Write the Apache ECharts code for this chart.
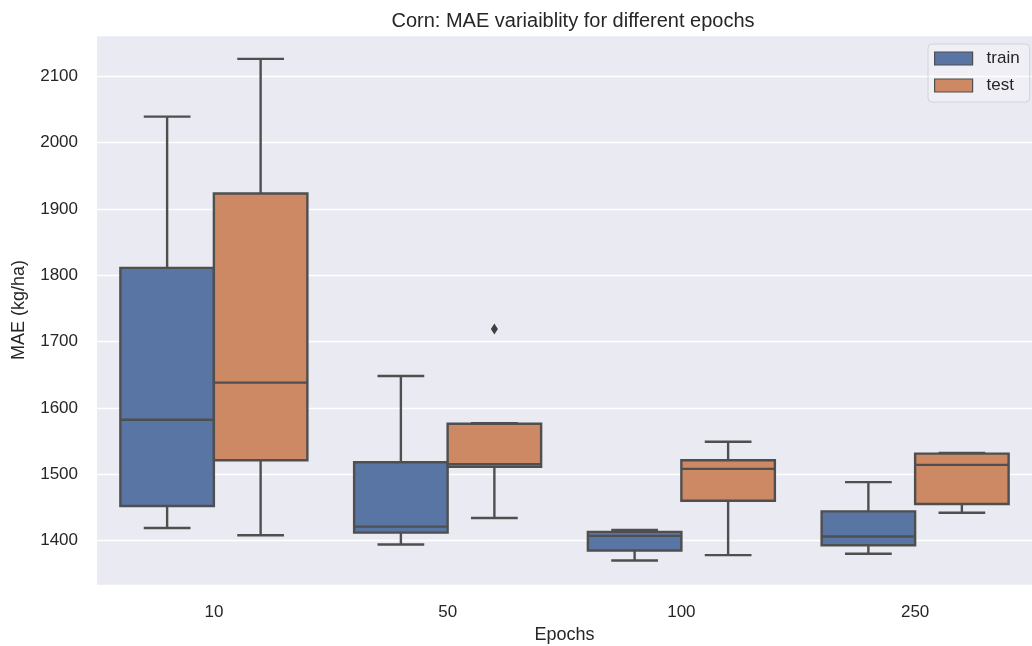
<!DOCTYPE html>
<html>
<head>
<meta charset="utf-8">
<script src="https://cdn.jsdelivr.net/npm/echarts@6/dist/echarts.min.js"></script>
<style>
  html, body { margin: 0; padding: 0; background: #ffffff; }
  #chart { width: 1032px; height: 646px; }
</style>
</head>
<body>
<div id="chart"></div>
<script>
// Epoch groups on the x axis
const categories = ['10', '50', '100', '250'];

// Box statistics per epoch: [lower whisker, Q1, median, Q3, upper whisker]
const trainStats = [
  [1419, 1452, 1582, 1811, 2039],
  [1394, 1412, 1421, 1518, 1648],
  [1370, 1385, 1407, 1413, 1416],
  [1380, 1393, 1406, 1444, 1488]
];
const testStats = [
  [1408, 1521, 1638, 1923, 2126],
  [1434, 1511, 1515, 1576, 1577],
  [1378, 1460, 1508, 1521, 1549],
  [1442, 1455, 1514, 1531, 1532]
];

// Points beyond the whiskers: [epoch index, value]
const testOutliers = [[1, 1719]];

// y axis tick values
const yTicks = [1400, 1500, 1600, 1700, 1800, 1900, 2000, 2100];

const TRAIN_COLOR = '#5875a4';
const TEST_COLOR = '#cd8963';
const EDGE = '#4f4f4f';
const LINE_W = 2.4;
const BOX_FRACTION = 0.4;
const FONT = '"Liberation Sans", Arial, Helvetica, sans-serif';
const TEXT = '#262626';

function toRows(stats) {
  return stats.map((s, i) => [i].concat(s));
}

// Draws one box with whiskers; side -1 puts it left of the category centre, +1 right
function boxRenderer(side, fill) {
  return function (params, api) {
    const i = api.value(0);
    const band = api.size([1, 0])[0];
    const w = band * BOX_FRACTION;
    const cx = api.coord([i, api.value(3)])[0];
    const left = side < 0 ? cx - w : cx;
    const mid = left + w / 2;
    const y = k => api.coord([i, api.value(k)])[1];
    const yLo = y(1), yQ1 = y(2), yMed = y(3), yQ3 = y(4), yHi = y(5);
    const cap = w / 4;
    const ls = { stroke: EDGE, lineWidth: LINE_W, fill: null };
    return {
      type: 'group',
      children: [
        { type: 'line', shape: { x1: mid, y1: yQ3, x2: mid, y2: yHi }, style: ls },
        { type: 'line', shape: { x1: mid, y1: yQ1, x2: mid, y2: yLo }, style: ls },
        { type: 'line', shape: { x1: mid - cap, y1: yHi, x2: mid + cap, y2: yHi }, style: ls },
        { type: 'line', shape: { x1: mid - cap, y1: yLo, x2: mid + cap, y2: yLo }, style: ls },
        { type: 'rect', shape: { x: left, y: yQ3, width: w, height: yQ1 - yQ3 },
          style: { fill: fill, stroke: EDGE, lineWidth: LINE_W } },
        { type: 'line', shape: { x1: left, y1: yMed, x2: left + w, y2: yMed }, style: ls }
      ]
    };
  };
}

// Diamond markers for outliers, placed at the centre of the matching box
function outlierRenderer(side) {
  return function (params, api) {
    const i = api.value(0);
    const band = api.size([1, 0])[0];
    const w = band * BOX_FRACTION;
    const p = api.coord([i, api.value(1)]);
    const mid = side < 0 ? p[0] - w / 2 : p[0] + w / 2;
    const yy = p[1];
    return {
      type: 'polygon',
      shape: { points: [[mid, yy - 5.5], [mid + 3.5, yy], [mid, yy + 5.5], [mid - 3.5, yy]] },
      style: { fill: '#3f3f3f', stroke: null }
    };
  };
}

const chart = echarts.init(document.getElementById('chart'), null, { renderer: 'canvas' });

chart.setOption({
  animation: false,
  backgroundColor: '#ffffff',
  title: {
    text: 'Corn: MAE variaiblity for different epochs',
    left: 568,
    top: 6,
    textAlign: 'center',
    textStyle: { fontFamily: FONT, fontSize: 20, fontWeight: 'normal', color: TEXT }
  },
  legend: {
    data: [
      { name: 'train', itemStyle: { color: TRAIN_COLOR, borderColor: EDGE, borderWidth: 1.2 } },
      { name: 'test', itemStyle: { color: TEST_COLOR, borderColor: EDGE, borderWidth: 1.2 } }
    ],
    orient: 'vertical',
    left: 928,
    top: 44,
    icon: 'rect',
    itemWidth: 38,
    itemHeight: 13,
    itemGap: 10,
    padding: [6, 10, 8, 6],
    backgroundColor: 'rgba(255,255,255,0.25)',
    borderColor: '#d2d2da',
    borderWidth: 1,
    borderRadius: 4,
    textStyle: { fontFamily: FONT, fontSize: 17, color: TEXT, padding: [0, 0, 0, 9] }
  },
  grid: {
    left: 97,
    right: 0,
    top: 35,
    bottom: 61,
    outerBoundsMode: 'none',
    containLabel: false,
    show: true,
    backgroundColor: '#eaeaf2',
    borderWidth: 0
  },
  xAxis: {
    type: 'category',
    data: categories,
    boundaryGap: true,
    name: 'Epochs',
    nameLocation: 'middle',
    nameGap: 41,
    nameTextStyle: { fontFamily: FONT, fontSize: 18, color: TEXT },
    axisLine: { show: false },
    axisTick: { show: false },
    splitLine: { show: false },
    axisLabel: { fontFamily: FONT, fontSize: 17, color: TEXT, margin: 19 }
  },
  yAxis: {
    type: 'value',
    min: 1333,
    max: 2162,
    splitNumber: 8,
    minInterval: 100,
    maxInterval: 100,
    name: 'MAE (kg/ha)',
    nameLocation: 'middle',
    nameGap: 69,
    nameTextStyle: { fontFamily: FONT, fontSize: 18, color: TEXT },
    axisLine: { show: false },
    axisTick: { show: false },
    splitLine: { show: true, lineStyle: { color: '#ffffff', width: 1.3 } },
    axisLabel: {
      fontFamily: FONT, fontSize: 17, color: TEXT, margin: 19,
      showMinLabel: false, showMaxLabel: false,
      formatter: v => (yTicks.indexOf(Math.round(v)) >= 0 && Math.abs(v - Math.round(v)) < 1e-6) ? String(Math.round(v)) : ''
    }
  },
  series: [
    {
      name: 'train',
      type: 'custom',
      itemStyle: { color: TRAIN_COLOR },
      renderItem: boxRenderer(-1, TRAIN_COLOR),
      encode: { x: 0, y: [1, 2, 3, 4, 5] },
      data: toRows(trainStats),
      z: 3
    },
    {
      name: 'test',
      type: 'custom',
      itemStyle: { color: TEST_COLOR },
      renderItem: boxRenderer(1, TEST_COLOR),
      encode: { x: 0, y: [1, 2, 3, 4, 5] },
      data: toRows(testStats),
      z: 3
    },
    {
      name: 'test outliers',
      type: 'custom',
      renderItem: outlierRenderer(1),
      encode: { x: 0, y: 1 },
      data: testOutliers,
      z: 4
    }
  ]
});
</script>
</body>
</html>
